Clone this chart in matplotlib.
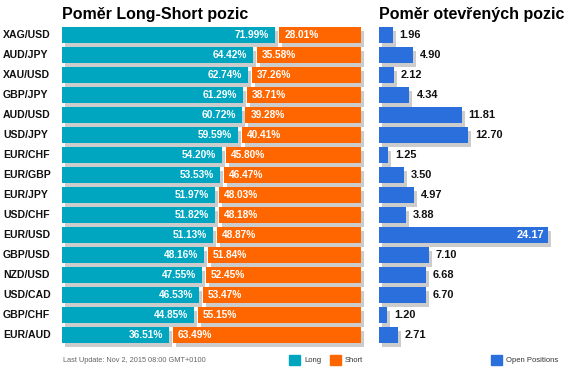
import matplotlib
matplotlib.use("Agg")
import matplotlib.pyplot as plt
from matplotlib.transforms import offset_copy
from matplotlib.patches import Rectangle

plt.rcParams['font.family'] = ['Liberation Sans', 'DejaVu Sans']

pairs = ["XAG/USD", "AUD/JPY", "XAU/USD", "GBP/JPY", "AUD/USD", "USD/JPY", "EUR/CHF",
         "EUR/GBP", "EUR/JPY", "USD/CHF", "EUR/USD", "GBP/USD", "NZD/USD", "USD/CAD",
         "GBP/CHF", "EUR/AUD"]
long_pct = [71.99, 64.42, 62.74, 61.29, 60.72, 59.59, 54.20, 53.53, 51.97, 51.82,
            51.13, 48.16, 47.55, 46.53, 44.85, 36.51]
short_pct = [28.01, 35.58, 37.26, 38.71, 39.28, 40.41, 45.80, 46.47, 48.03, 48.18,
             48.87, 51.84, 52.45, 53.47, 55.15, 63.49]
open_pos = [1.96, 4.90, 2.12, 4.34, 11.81, 12.70, 1.25, 3.50, 4.97, 3.88,
            24.17, 7.10, 6.68, 6.70, 1.20, 2.71]

TEAL = "#00A6BF"
ORANGE = "#FF6600"
BLUE = "#2A6FDB"
SHADOW = "#CCCCCC"

W, H = 569, 376
fig = plt.figure(figsize=(W / 100, H / 100), dpi=100)

n = len(pairs)
ypos = list(range(n))
bh = 0.8

def px_axes(x0, y0_top, w, h):
    return fig.add_axes([x0 / W, (H - y0_top - h) / H, w / W, h / H])

axL = px_axes(62, 25, 299, 320)
axL.set_xlim(0, 100)
axL.set_ylim(n - 0.5, -0.5)
axL.axis("off")

axR = px_axes(379, 25, 190, 320)
axR.set_xlim(0, 190 / 7.0)
axR.set_ylim(n - 0.5, -0.5)
axR.axis("off")

gap = 1.3
lw = [v - gap / 2 for v in long_pct]
sl = [v + gap / 2 for v in long_pct]
sw = [v - gap / 2 for v in short_pct]

shL = offset_copy(axL.transData, fig=fig, x=3, y=-4, units='dots')
axL.barh(ypos, lw, height=bh, color=SHADOW, transform=shL, clip_on=False, zorder=1)
axL.barh(ypos, sw, left=sl, height=bh, color=SHADOW, transform=shL, clip_on=False, zorder=1)
axL.barh(ypos, lw, height=bh, color=TEAL, zorder=2, clip_on=False)
axL.barh(ypos, sw, left=sl, height=bh, color=ORANGE, zorder=2, clip_on=False)

for i in range(n):
    axL.annotate(pairs[i], xy=(0, i), xytext=(-59, 0), textcoords='offset pixels',
                 ha='left', va='center', fontsize=7.6, fontweight='bold', color='#111111')
    axL.annotate(f"{long_pct[i]:.2f}%", xy=(lw[i], i), xytext=(-6, 0), textcoords='offset pixels',
                 ha='right', va='center', fontsize=7.3, fontweight='bold', color='white', zorder=3)
    axL.annotate(f"{short_pct[i]:.2f}%", xy=(sl[i], i), xytext=(5, 0), textcoords='offset pixels',
                 ha='left', va='center', fontsize=7.3, fontweight='bold', color='white', zorder=3)

shR = offset_copy(axR.transData, fig=fig, x=3, y=-4, units='dots')
axR.barh(ypos, open_pos, height=bh, color=SHADOW, transform=shR, clip_on=False, zorder=1)
axR.barh(ypos, open_pos, height=bh, color=BLUE, zorder=2, clip_on=False)
for i, v in enumerate(open_pos):
    if v > 20:
        axR.annotate(f"{v:.2f}", xy=(v, i), xytext=(-4, 0), textcoords='offset pixels',
                     ha='right', va='center', fontsize=7.9, fontweight='bold', color='white', zorder=3)
    else:
        axR.annotate(f"{v:.2f}", xy=(v, i), xytext=(7, 0), textcoords='offset pixels',
                     ha='left', va='center', fontsize=7.9, fontweight='bold', color='#111111', zorder=3)

# titles
fig.text(62 / W, 1 - 14 / H, "Poměr Long-Short pozic", ha='left', va='center',
         fontsize=11.5, fontweight='bold', color='black')
fig.text(379 / W, 1 - 14 / H, "Poměr otevřených pozic", ha='left', va='center',
         fontsize=11.5, fontweight='bold', color='black')

# footer
fy = 360
fig.text(63 / W, 1 - fy / H, "Last Update: Nov 2, 2015 08:00 GMT+0100", ha='left', va='center',
         fontsize=5.3, color='#666666')

def legend_item(x, label, color):
    fig.patches.append(Rectangle((x / W, 1 - (fy + 5) / H), 11 / W, 10 / H,
                                 transform=fig.transFigure, color=color, figure=fig))
    fig.text((x + 15) / W, 1 - fy / H, label, ha='left', va='center', fontsize=5.5, color='#333333')

legend_item(289, "Long", TEAL)
legend_item(330, "Short", ORANGE)
legend_item(491, "Open Positions", BLUE)

fig.savefig("out.png", dpi=100)
